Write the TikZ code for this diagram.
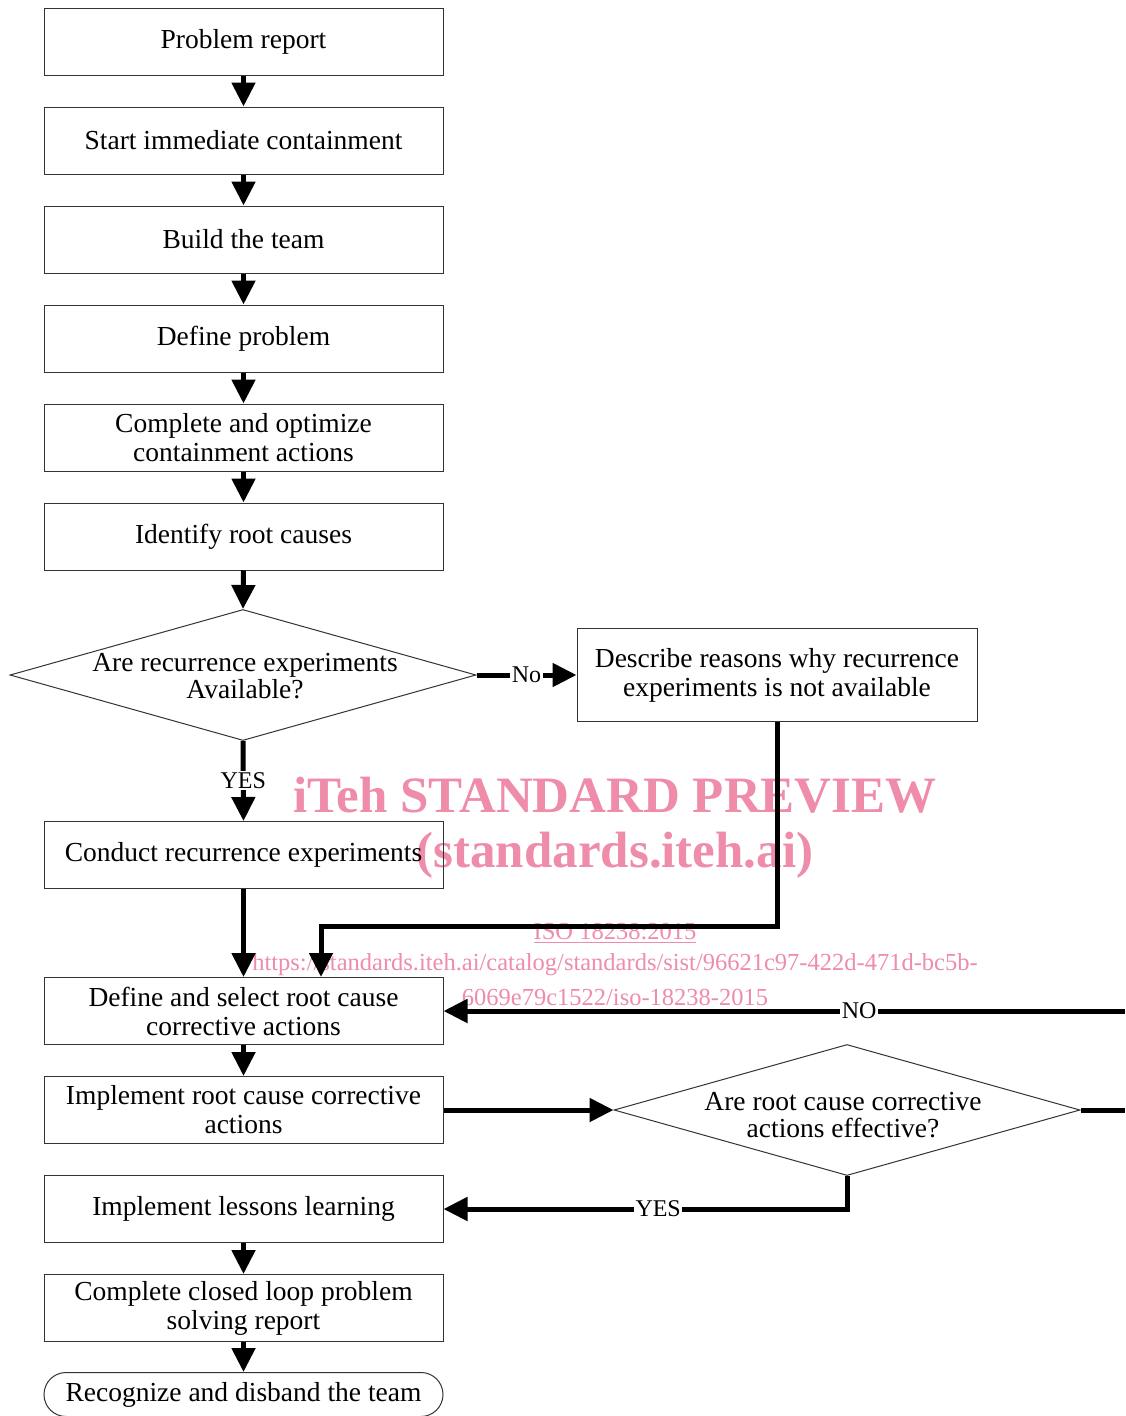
\documentclass[tikz,border=0pt]{standalone}
\usepackage{fontspec}
\setmainfont{Liberation Serif}
\usetikzlibrary{arrows.meta,shapes.geometric}
\definecolor{wm}{RGB}{238,140,170}
\begin{document}
\begin{tikzpicture}[x=1pt,y=-1pt,
 box/.style={draw=black!80, line width=1pt, minimum width=399pt, minimum height=67pt, inner sep=0pt, align=center, font=\fontsize{27.5}{29}\selectfont},
 dia/.style={draw=black!80, line width=1pt, diamond, minimum width=466pt, minimum height=131pt, inner sep=0pt},
 dtxt/.style={align=center, inner sep=0pt, font=\fontsize{27.5}{27}\selectfont},
 arr/.style={line width=5pt, -{Triangle[width=23pt,length=24pt]}},
 ln/.style={line width=5pt},
 lab/.style={fill=white, inner sep=1.5pt, font=\fontsize{24}{26}\selectfont},
 wmbig/.style={text=wm, font=\fontsize{51}{56}\bfseries\selectfont, inner sep=0pt},
 wmsmall/.style={text=wm, font=\fontsize{24.5}{26}\selectfont, inner sep=0pt}
]
\useasboundingbox (0,0) rectangle (1125,1416);
\fill[white] (0,0) rectangle (1125,1416);

% watermark
\node[wmbig] (w1) at (615,795) {iTeh STANDARD PREVIEW};
\node[wmbig] (w2) at (615,855) {(standards.iteh.ai)};
\node[wmsmall] (w3) at (615,933) {\underline{ISO 18238:2015}};
\node[wmsmall] (w4) at (615,965) {https://standards.iteh.ai/catalog/standards/sist/96621c97-422d-471d-bc5b-};
\node[wmsmall] (w5) at (615,997) {6069e79c1522/iso-18238-2015};

% nodes
\node[box] (b1) at (243.5,41.5) {Problem report};
\node[box] (b2) at (243.5,140.5) {Start immediate  containment};
\node[box] (b3) at (243.5,239.5) {Build the team};
\node[box] (b4) at (243.5,338.5) {Define problem};
\node[box] (b5) at (243.5,437.5) {Complete and optimize\\containment actions};
\node[box] (b6) at (243.5,536.5) {Identify root causes};
\node[dia] (d1) at (243,675) {};
\node[dtxt] (d1t) at (245,676) {Are recurrence experiments\\Available?};
\node[box, minimum width=400pt, minimum height=93pt] (desc) at (777,675) {Describe reasons why recurrence\\experiments is not available};
\node[box] (b7) at (243.5,855) {Conduct recurrence experiments};
\node[box] (b8) at (243.5,1011) {Define and select root cause\\corrective actions};
\node[box] (b9) at (243.5,1110) {Implement root cause corrective\\actions};
\node[dia] (d2) at (847,1110) {};
\node[dtxt] (d2t) at (843,1115) {Are root cause corrective\\actions effective?};
\node[box] (b10) at (243.5,1209) {Implement lessons learning};
\node[box] (b11) at (243.5,1308) {Complete closed loop problem\\solving report};
\node[box, rounded corners=22pt, minimum height=44pt] (b12) at (243.5,1394.5) {Recognize and disband the team};

\coordinate (c1) at (321,926);
\coordinate (eR) at (1125,1110);
\coordinate (eN) at (1125,1011);

% connectors
\draw[arr] (b1.south) -- (b2.north);
\draw[arr] (b2.south) -- (b3.north);
\draw[arr] (b3.south) -- (b4.north);
\draw[arr] (b4.south) -- (b5.north);
\draw[arr] (b5.south) -- (b6.north);
\draw[arr] (b6.south) -- (d1.north);
\draw[arr] (d1.east) -- node[lab] {No} (desc.west);
\draw[arr] (d1.south) -- node[lab, pos=0.49] {YES} (b7.north);
\draw[arr] (b7.south) -- (b8.north);
\draw[arr] (desc.south) |- (c1) -- (c1 |- b8.north);
\draw[arr] (b8.south) -- (b9.north);
\draw[arr] (b9.east) -- (d2.west);
\draw[ln] (d2.east) -- (eR);
\draw[arr] (eN) -- node[lab, pos=0.39] {NO} (b8.east);
\draw[arr] (d2.south) |- node[lab, pos=0.734] {YES} (b10.east);
\draw[arr] (b10.south) -- (b11.north);
\draw[arr] (b11.south) -- (b12.north);
\end{tikzpicture}
\end{document}
